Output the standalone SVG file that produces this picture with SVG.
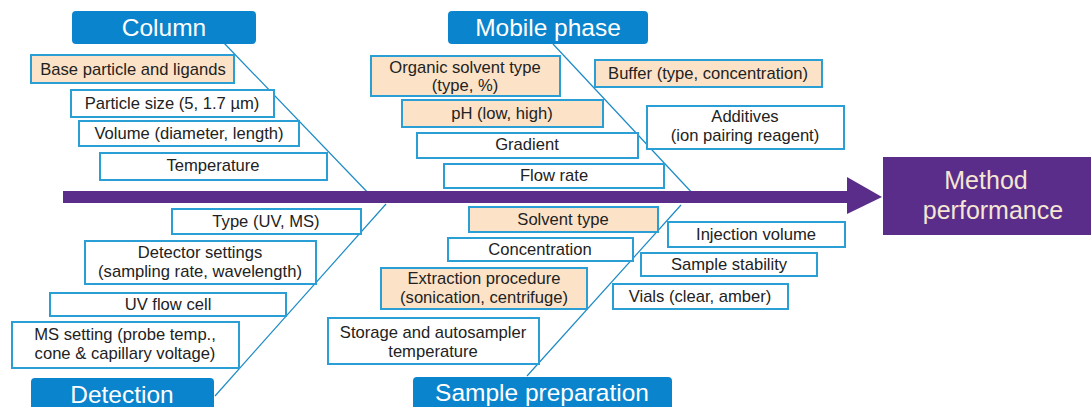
<svg xmlns="http://www.w3.org/2000/svg" width="1091" height="407" viewBox="0 0 1091 407">
<style>
.hd{fill:#0a84cc}
.hdt{fill:#ffffff;font-family:"Liberation Sans",Arial,sans-serif;font-size:24.5px;text-anchor:middle}
.bx{fill:#ffffff;stroke:#2a9fd6;stroke-width:2}
.pk{fill:#fce3c8;stroke:#2a9fd6;stroke-width:2}
.t{fill:#222222;font-family:"Liberation Sans",Arial,sans-serif;font-size:16.6px;text-anchor:middle}
.ln{stroke:#1b8ac6;stroke-width:1.2;fill:none}
.mt{fill:#f4e6d2;font-family:"Liberation Sans",Arial,sans-serif;font-size:25px;text-anchor:middle}
</style>
<rect width="1091" height="407" fill="#ffffff"/>
<g id="connectors">
<line class="ln" x1="224" y1="43" x2="372" y2="197"/>
<line class="ln" x1="553" y1="44" x2="695" y2="196"/>
<line class="ln" x1="215" y1="396" x2="386" y2="204"/>
<line class="ln" x1="527" y1="376" x2="681" y2="205"/>
</g>
<g id="spine">
<rect x="63" y="191" width="786" height="12" fill="#5a2d8a"/>
<polygon points="847,177 882,197 847,214" fill="#5a2d8a"/>
</g>
<g id="method-performance">
<rect x="883" y="157" width="208" height="78" fill="#5a2d8a"/>
<text class="mt" x="986" y="189">Method</text>
<text class="mt" x="993" y="219">performance</text>
</g>
<g id="column">
<rect class="hd" x="72" y="11" width="184" height="33" rx="4"/>
<text class="hdt" x="164" y="36">Column</text>
</g>
<g id="mobile-phase">
<rect class="hd" x="448" y="11" width="200" height="33" rx="4"/>
<text class="hdt" x="548" y="36">Mobile phase</text>
</g>
<g id="detection">
<rect class="hd" x="31" y="378" width="183" height="36" rx="4"/>
<text class="hdt" x="122" y="403">Detection</text>
</g>
<g id="sample-preparation">
<rect class="hd" x="413" y="377" width="259" height="36" rx="4"/>
<text class="hdt" x="542" y="401">Sample preparation</text>
</g>
<g id="base-particle">
<rect class="pk" x="31" y="55" width="203" height="28"/>
<text class="t" x="133" y="75">Base particle and ligands</text>
</g>
<g id="particle-size">
<rect class="bx" x="71" y="90" width="203" height="27"/>
<text class="t" x="172" y="109">Particle size (5, 1.7 µm)</text>
</g>
<g id="volume">
<rect class="bx" x="79" y="121" width="220" height="25"/>
<text class="t" x="189" y="139">Volume (diameter, length)</text>
</g>
<g id="temperature">
<rect class="bx" x="100" y="153" width="227" height="27"/>
<text class="t" x="213" y="171">Temperature</text>
</g>
<g id="organic-solvent">
<rect class="pk" x="371" y="56" width="189" height="40"/>
<text class="t" x="465" y="73">Organic solvent type</text>
<text class="t" x="465" y="91">(type, %)</text>
</g>
<g id="ph">
<rect class="pk" x="402" y="100" width="201" height="27"/>
<text class="t" x="502" y="119">pH (low, high)</text>
</g>
<g id="gradient">
<rect class="bx" x="417" y="133" width="221" height="25"/>
<text class="t" x="527" y="150">Gradient</text>
</g>
<g id="flow-rate">
<rect class="bx" x="444" y="164" width="220" height="24"/>
<text class="t" x="554" y="181">Flow rate</text>
</g>
<g id="buffer">
<rect class="pk" x="595" y="60" width="227" height="27"/>
<text class="t" x="708" y="79">Buffer (type, concentration)</text>
</g>
<g id="additives">
<rect class="bx" x="647" y="106" width="197" height="43"/>
<text class="t" x="745" y="122">Additives</text>
<text class="t" x="745" y="141">(ion pairing reagent)</text>
</g>
<g id="type-uv-ms">
<rect class="bx" x="172" y="209" width="189" height="25"/>
<text class="t" x="266" y="227">Type (UV, MS)</text>
</g>
<g id="detector-settings">
<rect class="bx" x="85" y="241" width="231" height="43"/>
<text class="t" x="200" y="258">Detector settings</text>
<text class="t" x="200" y="277">(sampling rate, wavelength)</text>
</g>
<g id="uv-flow-cell">
<rect class="bx" x="50" y="293" width="236" height="23"/>
<text class="t" x="168" y="310">UV flow cell</text>
</g>
<g id="ms-setting">
<rect class="bx" x="12" y="322" width="227" height="46"/>
<text class="t" x="125" y="340">MS setting (probe temp.,</text>
<text class="t" x="125" y="359">cone &amp; capillary voltage)</text>
</g>
<g id="solvent-type">
<rect class="pk" x="469" y="207" width="189" height="25"/>
<text class="t" x="563" y="225">Solvent type</text>
</g>
<g id="concentration">
<rect class="bx" x="448" y="238" width="185" height="23"/>
<text class="t" x="540" y="255">Concentration</text>
</g>
<g id="extraction">
<rect class="pk" x="381" y="268" width="206" height="41"/>
<text class="t" x="484" y="284">Extraction procedure</text>
<text class="t" x="484" y="303">(sonication, centrifuge)</text>
</g>
<g id="storage">
<rect class="bx" x="328" y="318" width="211" height="46"/>
<text class="t" x="433" y="338">Storage and autosampler</text>
<text class="t" x="433" y="357">temperature</text>
</g>
<g id="injection-volume">
<rect class="bx" x="668" y="222" width="177" height="25"/>
<text class="t" x="756" y="240">Injection volume</text>
</g>
<g id="sample-stability">
<rect class="bx" x="641" y="253" width="176" height="23"/>
<text class="t" x="729" y="270">Sample stability</text>
</g>
<g id="vials">
<rect class="bx" x="613" y="284" width="175" height="25"/>
<text class="t" x="700" y="302">Vials (clear, amber)</text>
</g>
</svg>
